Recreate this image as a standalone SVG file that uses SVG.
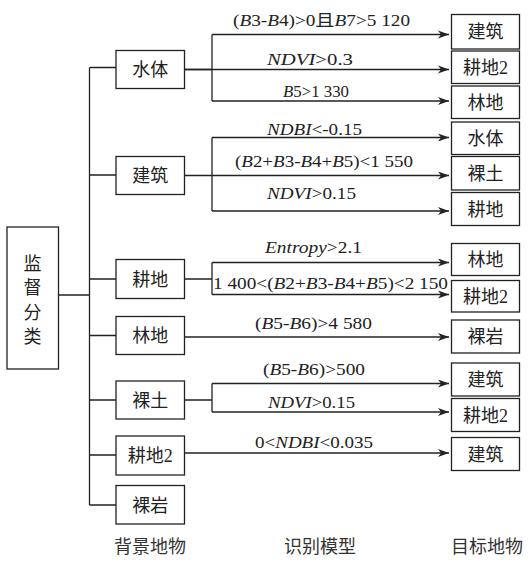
<svg xmlns="http://www.w3.org/2000/svg" width="529" height="562" viewBox="0 0 529 562">
<defs>
<style>
.box{fill:#fff;stroke:#222;stroke-width:1.3}
.ln{fill:none;stroke:#222;stroke-width:1.3}
.ar{fill:none;stroke:#222;stroke-width:1.3;marker-end:url(#ah)}
.cn{font-family:"Liberation Serif","Noto Sans CJK SC",serif;font-size:18px;fill:#222;text-anchor:middle}
.lb{font-family:"Liberation Serif","Noto Sans CJK SC",serif;font-size:16px;fill:#222}
.it{font-style:italic}
.ft{font-family:"Liberation Serif","Noto Sans CJK SC",serif;font-size:18px;fill:#333;text-anchor:middle}
</style>
<marker id="ah" markerWidth="12" markerHeight="10" refX="11" refY="5" orient="auto" markerUnits="userSpaceOnUse">
<path d="M0,1 L11,5 L0,9 L3,5 Z" fill="#222"/>
</marker>
</defs>
<rect width="529" height="562" fill="#fff"/>
<g id="connectors">
<path class="ln" d="M58,295 H89.5 M89.5,67.5 V505 M89.5,67.5 H116 M89.5,175 H116 M89.5,279 H116 M89.5,335.5 H116 M89.5,400 H116 M89.5,455 H116 M89.5,505 H116"/>
<path class="ln" d="M185,69.5 H212 M212,34.5 V101 M185,175.5 H212 M212,137.5 V211 M185,279 H212 M212,262.5 V294.5 M185,400 H212 M212,383.5 V412"/>
<path class="ar" d="M212,34.5 H449"/>
<path class="ar" d="M185,69.5 H449"/>
<path class="ar" d="M212,101 H449"/>
<path class="ar" d="M212,137.5 H449"/>
<path class="ar" d="M212,175.5 H449"/>
<path class="ar" d="M212,211 H449"/>
<path class="ar" d="M212,262.5 H449"/>
<path class="ar" d="M212,294.5 H449"/>
<path class="ar" d="M185,337 H449"/>
<path class="ar" d="M212,383.5 H449"/>
<path class="ar" d="M212,412 H449"/>
<path class="ar" d="M185,453 H449"/>
</g>
<g id="labels">
<text class="lb" x="233" y="26" textLength="177" lengthAdjust="spacingAndGlyphs">(<tspan class="it">B</tspan>3-<tspan class="it">B</tspan>4)&gt;0且<tspan class="it">B</tspan>7&gt;5 120</text>
<text class="lb" x="267" y="65" textLength="86" lengthAdjust="spacingAndGlyphs"><tspan class="it">NDVI</tspan>&gt;0.3</text>
<text class="lb" x="283" y="97" textLength="66" lengthAdjust="spacingAndGlyphs"><tspan class="it">B</tspan>5&gt;1 330</text>
<text class="lb" x="267" y="135" textLength="95" lengthAdjust="spacingAndGlyphs"><tspan class="it">NDBI</tspan>&lt;-0.15</text>
<text class="lb" x="235" y="167" textLength="178" lengthAdjust="spacingAndGlyphs">(<tspan class="it">B</tspan>2+<tspan class="it">B</tspan>3-<tspan class="it">B</tspan>4+<tspan class="it">B</tspan>5)&lt;1 550</text>
<text class="lb" x="267" y="199" textLength="89" lengthAdjust="spacingAndGlyphs"><tspan class="it">NDVI</tspan>&gt;0.15</text>
<text class="lb" x="265" y="253" textLength="97" lengthAdjust="spacingAndGlyphs"><tspan class="it">Entropy</tspan>&gt;2.1</text>
<text class="lb" x="213" y="289" textLength="235" lengthAdjust="spacingAndGlyphs">1 400&lt;(<tspan class="it">B</tspan>2+<tspan class="it">B</tspan>3-<tspan class="it">B</tspan>4+<tspan class="it">B</tspan>5)&lt;2 150</text>
<text class="lb" x="255" y="329" textLength="117" lengthAdjust="spacingAndGlyphs">(<tspan class="it">B</tspan>5-<tspan class="it">B</tspan>6)&gt;4 580</text>
<text class="lb" x="263" y="375" textLength="102" lengthAdjust="spacingAndGlyphs">(<tspan class="it">B</tspan>5-<tspan class="it">B</tspan>6)&gt;500</text>
<text class="lb" x="268" y="408" textLength="87" lengthAdjust="spacingAndGlyphs"><tspan class="it">NDVI</tspan>&gt;0.15</text>
<text class="lb" x="255" y="448" textLength="118" lengthAdjust="spacingAndGlyphs">0&lt;<tspan class="it">NDBI</tspan>&lt;0.035</text>
</g>
<g id="root">
<rect class="box" x="7" y="227" width="51.5" height="142"/>
<text class="cn" x="32.5" y="270">监</text>
<text class="cn" x="32.5" y="294">督</text>
<text class="cn" x="32.5" y="318.5">分</text>
<text class="cn" x="32.5" y="342.5">类</text>
</g>
<g id="bg-shuiti"><rect class="box" x="116" y="50.5" width="68.5" height="38"/><text class="cn" x="150.3" y="76">水体</text></g>
<g id="bg-jianzhu"><rect class="box" x="116" y="156.5" width="68.5" height="38"/><text class="cn" x="150.3" y="182">建筑</text></g>
<g id="bg-gengdi"><rect class="box" x="116" y="259.5" width="68.5" height="39"/><text class="cn" x="150.3" y="285.5">耕地</text></g>
<g id="bg-lindi"><rect class="box" x="116" y="316.5" width="68.5" height="38"/><text class="cn" x="150.3" y="342">林地</text></g>
<g id="bg-luotu"><rect class="box" x="116" y="381" width="68.5" height="38"/><text class="cn" x="150.3" y="406.5">裸土</text></g>
<g id="bg-gengdi2"><rect class="box" x="116" y="436" width="68.5" height="39"/><text class="cn" x="150.3" y="462">耕地2</text></g>
<g id="bg-luoyan"><rect class="box" x="116" y="485.5" width="68.5" height="38.5"/><text class="cn" x="150.3" y="511.5">裸岩</text></g>
<g id="t1"><rect class="box" x="451.5" y="14.5" width="68" height="34.5"/><text class="cn" x="485.5" y="38">建筑</text></g>
<g id="t2"><rect class="box" x="451.5" y="51" width="68" height="32.5"/><text class="cn" x="485.5" y="73.5">耕地2</text></g>
<g id="t3"><rect class="box" x="451.5" y="86" width="68" height="32.5"/><text class="cn" x="485.5" y="108.5">林地</text></g>
<g id="t4"><rect class="box" x="451.5" y="122" width="68" height="32.5"/><text class="cn" x="485.5" y="144.5">水体</text></g>
<g id="t5"><rect class="box" x="451.5" y="156.5" width="68" height="33.5"/><text class="cn" x="485.5" y="179.5">裸土</text></g>
<g id="t6"><rect class="box" x="451.5" y="192.5" width="68" height="33"/><text class="cn" x="485.5" y="215.5">耕地</text></g>
<g id="t7"><rect class="box" x="451.5" y="243.5" width="68" height="32"/><text class="cn" x="485.5" y="265.5">林地</text></g>
<g id="t8"><rect class="box" x="451.5" y="280.5" width="68" height="31.5"/><text class="cn" x="485.5" y="302.5">耕地2</text></g>
<g id="t9"><rect class="box" x="451.5" y="320" width="68" height="33"/><text class="cn" x="485.5" y="343">裸岩</text></g>
<g id="t10"><rect class="box" x="451.5" y="363" width="68" height="33"/><text class="cn" x="485.5" y="386">建筑</text></g>
<g id="t11"><rect class="box" x="451.5" y="398.5" width="68" height="33"/><text class="cn" x="485.5" y="421.5">耕地2</text></g>
<g id="t12"><rect class="box" x="451.5" y="437.5" width="68" height="33"/><text class="cn" x="485.5" y="460.5">建筑</text></g>
<g id="footer">
<text class="ft" x="150" y="553">背景地物</text>
<text class="ft" x="320" y="553">识别模型</text>
<text class="ft" x="487" y="553">目标地物</text>
</g>
</svg>
